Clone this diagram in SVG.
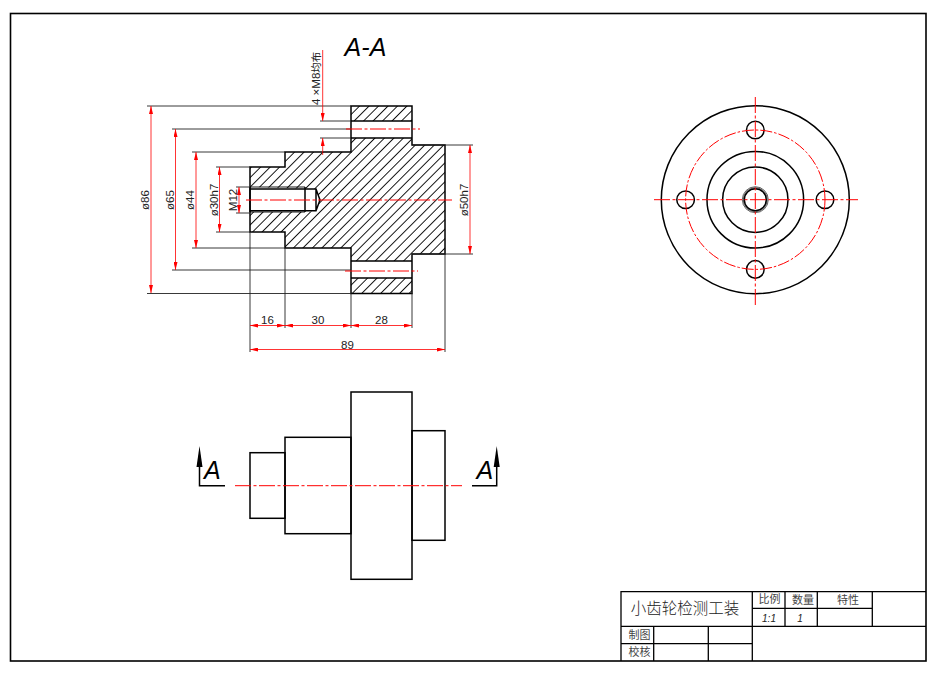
<svg xmlns="http://www.w3.org/2000/svg" width="933" height="673" viewBox="0 0 933 673">
<style>
.o{fill:none;stroke:#000;stroke-width:1.5}
.n{fill:none;stroke:#000;stroke-width:.9}
.e{fill:none;stroke:#222;stroke-width:.9}
.d{fill:none;stroke:#f00;stroke-width:.8;marker-start:url(#ar);marker-end:url(#ar)}
.s{fill:none;stroke:#f00;stroke-width:.8}
.c{fill:none;stroke:#f00;stroke-width:1;stroke-dasharray:16 2.500 3 2.500}
.t{font-family:"Liberation Sans",Arial,sans-serif;font-size:11.500px;fill:#222;text-anchor:middle}
.a{font-family:"Liberation Sans",Arial,sans-serif;font-size:25px;font-style:italic;fill:#000}
.k{font-family:"Noto Sans CJK SC",sans-serif;font-size:11px;fill:#444;text-anchor:middle}
.i{font-family:"Liberation Sans",Arial,sans-serif;font-size:10px;font-style:italic;fill:#222;text-anchor:middle}
</style>
<defs>
<marker id="ar" viewBox="0 0 8 4" refX="8" refY="2" markerWidth="8" markerHeight="4" markerUnits="userSpaceOnUse" orient="auto-start-reverse"><path d="M0 0L8 2L0 4Z" fill="#f00"/></marker>
<pattern id="h" width="6.700" height="6.700" patternUnits="userSpaceOnUse" patternTransform="rotate(-45 250 200)"><line x1="0" y1="3.350" x2="6.700" y2="3.350" stroke="#000" stroke-width=".9"/></pattern>
</defs>
<rect width="933" height="673" fill="#fff"/>
<rect id="frame" x="10.500" y="13.500" width="915.500" height="647.500" fill="none" stroke="#000" stroke-width="1.600"/>

<g id="section-view">
<path fill="url(#h)" d="M351 106H412V121H351Z M351 278H412V293.500H351Z M250 167H285V152H351V138H412V145H445V254H412V261H351V248H285V232H250V212H305L316 211L320 200L316 189L250 187Z"/>
<path class="o" d="M351 121V106H412V145H445V254H412V293.500H351V248H285V232H250V167H285V152H351V121"/>
<path class="o" d="M351 121H412M351 138H412M351 261H412M351 278H412"/>
<path class="n" d="M250 187H305M250 212H305"/>
<path class="o" d="M305 187V212M250 189H316L320 200L316 210.700H250M316 189V210.700M250 187V212"/>
</g>

<g id="extension-lines">
<path class="e" d="M147 106H351M172 129H351M192 152H285M216 167H250M236 187H250M320 121H351M320 138H351M412 145H473"/>
<path class="e" d="M147 293.500H351M172 270H351M192 248H285M216 232H250M236 213H250M412 254H473"/>
<path class="e" d="M250 232V352M285 248V328M351 293V328M412 293V328M445 254V352"/>
</g>

<g id="dimensions">
<path class="d" d="M151 106V293"/>
<path class="d" d="M175.500 129V270"/>
<path class="d" d="M196 152V248"/>
<path class="d" d="M219.500 167V232"/>
<path class="d" d="M239 187V213"/>
<path class="d" d="M470 145V254"/>
<path class="s" d="M322.700 50V121" marker-end="url(#ar)"/>
<path class="s" d="M322.700 155V138" marker-end="url(#ar)"/>
<path class="d" d="M250 325.500H285"/>
<path class="d" d="M285 325.500H351"/>
<path class="d" d="M351 325.500H412"/>
<path class="d" d="M250 349.500H445"/>
<text class="t" transform="translate(149 200) rotate(-90)">ø86</text>
<text class="t" transform="translate(173.500 200) rotate(-90)">ø65</text>
<text class="t" transform="translate(194 200) rotate(-90)">ø44</text>
<text class="t" transform="translate(218 200) rotate(-90)">ø30h7</text>
<text class="t" transform="translate(236.500 200) rotate(-90)">M12</text>
<text class="t" transform="translate(468 200) rotate(-90)">ø50h7</text>
<text class="t" style="text-anchor:start" transform="translate(320 105) rotate(-90)">4 ×M8<tspan font-family="Noto Sans CJK SC" font-size="10.500">均布</tspan></text>
<text class="t" x="267.500" y="324">16</text>
<text class="t" x="318" y="324">30</text>
<text class="t" x="381.500" y="324">28</text>
<text class="t" x="347.500" y="349">89</text>
</g>

<text id="title-aa" class="a" x="344.500" y="55.500" textLength="42">A-A</text>

<g id="center-lines-section">
<path class="c" d="M346 129H420"/>
<path class="c" d="M345 271H418"/>
<path class="c" d="M246 200H452"/>
</g>

<g id="end-view">
<circle class="o" cx="755.300" cy="199.700" r="94"/>
<circle class="o" cx="755.300" cy="199.700" r="48.300"/>
<circle class="o" cx="755.300" cy="199.700" r="32.700"/>
<circle class="o" cx="755.300" cy="199.700" r="11"/>
<circle cx="755.300" cy="199.700" r="13" fill="none" stroke="#222" stroke-width=".7"/>
<circle cx="755.300" cy="199.700" r="12" fill="none" stroke="#222" stroke-width=".7"/>
<circle class="o" cx="755.300" cy="130" r="8.800"/>
<circle class="o" cx="755.300" cy="269.400" r="8.800"/>
<circle class="o" cx="685.600" cy="199.700" r="8.800"/>
<circle class="o" cx="825" cy="199.700" r="8.800"/>
<circle cx="755.300" cy="199.700" r="69.700" fill="none" stroke="#f00" stroke-width="1" stroke-dasharray="12 2 2.500 2"/>
<path class="c" d="M654 199.700H858"/>
<path class="c" d="M755.300 97V305"/>
</g>

<g id="front-view">
<rect class="o" x="250" y="452.700" width="35" height="65.600"/>
<rect class="o" x="285" y="437.300" width="66" height="96.400"/>
<rect class="o" x="351" y="392" width="61" height="187.300"/>
<rect class="o" x="412" y="430.700" width="33" height="109.600"/>
<path class="c" d="M235 485.700H462"/>
</g>

<g id="section-mark-left">
<path class="o" d="M199.500 466V485.700H225"/>
<path d="M199.500 446L202.500 467H196.500Z" fill="#000"/>
<text class="a" x="204" y="479">A</text>
</g>
<g id="section-mark-right">
<path class="o" d="M496.700 466V485.700H472"/>
<path d="M496.700 446L499.700 467H493.700Z" fill="#000"/>
<text class="a" x="476.500" y="479">A</text>
</g>

<g id="title-block">
<path class="o" style="stroke-width:1.300" d="M621 661V591.700H926M621 626.300H926M621 643.700H752.300M752.300 591.700V661M785 591.700V626.300M817.300 591.700V626.300M872.300 591.700V626.300M752.300 608.300H872.300M653.700 626.300V661M708.300 626.300V661"/>
<text x="685" y="614" style="font-family:'Noto Sans CJK SC',sans-serif;font-size:15.500px;fill:#222;text-anchor:middle;font-weight:300">小齿轮检测工装</text>
<text class="k" x="769.500" y="603">比例</text>
<text class="k" x="803" y="604">数量</text>
<text class="k" x="848" y="604">特性</text>
<text class="i" x="769" y="621.500">1:1</text>
<text class="i" x="800" y="621.500">1</text>
<text class="k" x="639.500" y="639">制图</text>
<text class="k" x="639.500" y="655.500">校核</text>
</g>
</svg>
